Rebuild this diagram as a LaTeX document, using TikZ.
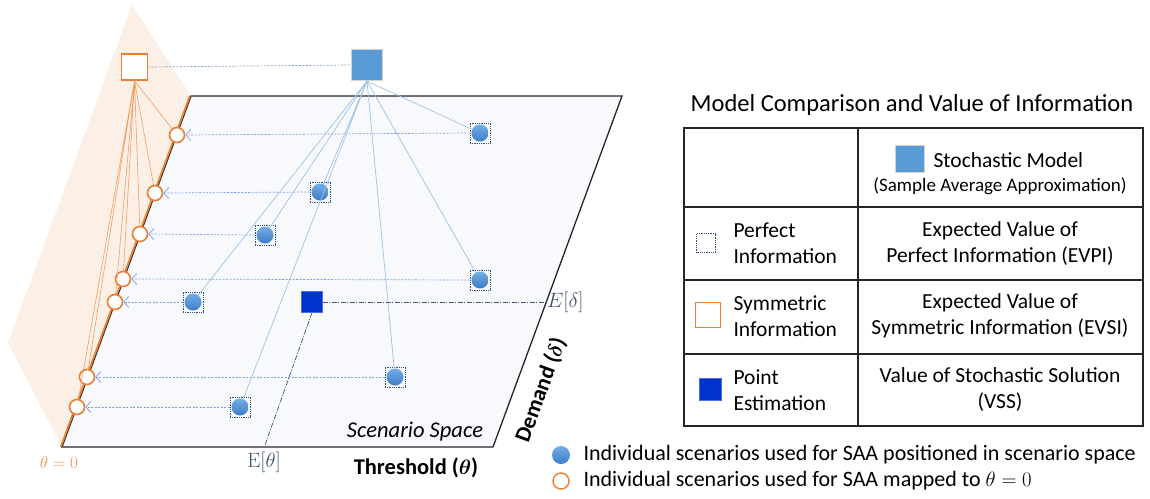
\documentclass[tikz,border=0pt]{standalone}
\usepackage{bm}
\usepackage[no-math]{fontspec}
\setmainfont{Carlito}
\usetikzlibrary{arrows.meta,positioning,calc}
\definecolor{saablue}{HTML}{5B9BD5}
\definecolor{dottop}{HTML}{74AEE6}
\definecolor{dotbottom}{HTML}{3D7CC9}
\definecolor{linkblue}{HTML}{9DC3E6}
\definecolor{symorange}{HTML}{ED7D31}
\definecolor{pointblue}{HTML}{0033CC}
\definecolor{shadeorange}{HTML}{FBEFE6}
\definecolor{planefill}{HTML}{F7F9FC}
\definecolor{dotframe}{HTML}{2F4F7F}
\definecolor{expgray}{HTML}{44546A}

\begin{document}
\begin{tikzpicture}[x=1pt, y=-1pt,
    scenbox/.style={draw=dotframe, densely dotted, line width=0.8pt, minimum size=20pt, inner sep=0pt},
    scendot/.style={circle, inner sep=0pt, minimum size=17pt, top color=dottop, bottom color=dotbottom},
    mapcirc/.style={circle, draw=symorange, line width=1.6pt, fill=white, minimum size=15pt, inner sep=0pt},
    mapline/.style={symorange!75, line width=0.6pt},
    saaline/.style={linkblue, line width=0.7pt},
    mapto/.style={linkblue!80!blue, dash pattern=on 2pt off 1.5pt, line width=0.7pt, -{Straight Barb[length=5pt, width=11pt]}},
    estline/.style={expgray, dash pattern=on 5pt off 1.5pt on 1pt off 1.5pt, line width=0.7pt},
    cell/.style={align=center, font=\fontsize{21.5}{26}\selectfont},
    rowlabel/.style={align=left, anchor=west, font=\fontsize{21.5}{26}\selectfont},
    legend/.style={anchor=west, font=\fontsize{22}{26}\selectfont}
    ]
    \useasboundingbox (0,0) rectangle (1150,498);

    % scenario space
    \fill[shadeorange] (132,5) -- (191,96) -- (62,447) -- (8,343) -- cycle;
    \coordinate (tl) at (191,96);
    \coordinate (tr) at (622,96);
    \coordinate (br) at (493,447);
    \coordinate (bl) at (62,447);
    \filldraw[fill=planefill, draw=black!85, line width=1.3pt] (bl) -- (tl) -- (tr) -- (br) -- cycle;
    \draw[symorange, line width=1.8pt] ($(bl)+(-1.2,0)$) -- ($(tl)+(-1.2,0)$);

    \node[draw=gray!35, line width=1.2pt, fill=saablue, minimum size=31pt, inner sep=0pt] (sm) at (367,65) {};
    \node[draw=symorange, line width=1.6pt, fill=white, minimum size=26pt, inner sep=0pt] (os) at (134.5,67) {};
    \draw[linkblue!70!expgray, dash pattern=on 2pt off 1.5pt, line width=0.7pt] (os.east) -- (sm.west);

    \node[scenbox] (s1) at (480,133) {};
    \node[scenbox] (s2) at (320,192) {};
    \node[scenbox] (s3) at (265,235) {};
    \node[scenbox] (s4) at (480,280) {};
    \node[scenbox] (s5) at (193,302) {};
    \node[scenbox] (s6) at (395,377) {};
    \node[scenbox] (s7) at (240,407) {};
    \node[scendot] (d1) at (s1) {};
    \node[scendot] (d2) at (s2) {};
    \node[scendot] (d3) at (s3) {};
    \node[scendot] (d4) at (s4) {};
    \node[scendot] (d5) at (s5) {};
    \node[scendot] (d6) at (s6) {};
    \node[scendot] (d7) at (s7) {};

    \node[mapcirc] (o1) at (177,135) {};
    \node[mapcirc] (o2) at (155,193) {};
    \node[mapcirc] (o3) at (140,234) {};
    \node[mapcirc] (o4) at (123,279) {};
    \node[mapcirc] (o5) at (115,302) {};
    \node[mapcirc] (o6) at (87,377) {};
    \node[mapcirc] (o7) at (77,407) {};

    \draw[saaline] (sm.south) -- (d1) (sm.south) -- (d2) (sm.south) -- (d3) (sm.south) -- (d4)
        (sm.south) -- (d5) (sm.south) -- (d6) (sm.south) -- (d7);
    \draw[mapline] (os.south) -- (o1) (os.south) -- (o2) (os.south) -- (o3) (os.south) -- (o4)
        (os.south) -- (o5) (os.south) -- (o6) (os.south) -- (o7);
    \draw[mapto] (s1.west) -- (o1.east);
    \draw[mapto] (s2.west) -- (o2.east);
    \draw[mapto] (s3.west) -- (o3.east);
    \draw[mapto] (s4.west) -- (o4.east);
    \draw[mapto] (s5.west) -- (o5.east);
    \draw[mapto] (s6.west) -- (o6.east);
    \draw[mapto] (s7.west) -- (o7.east);

    % point estimation
    \node[fill=pointblue, draw=pointblue!70!white, minimum size=21pt, inner sep=0pt] (pe) at (312,302) {};
    \coordinate (ed) at (546,302);
    \coordinate (et) at (265,445);
    \draw[estline] (pe.east) -- (ed);
    \draw[estline] (pe.south) -- (et);
    \node[anchor=west, inner sep=1pt, text=expgray, font=\fontsize{22}{26}\selectfont] (edlab) at (ed) {$E[\delta]$};
    \node[text=expgray, font=\fontsize{20}{24}\selectfont] (etlab) at (264,462) {$\mathrm{E}[\theta]$};
    \node[text=symorange!85, font=\fontsize{19}{23}\selectfont] (zerolab) at (59,462) {$\theta = 0$};

    \node[font=\itshape\fontsize{22.5}{26}\selectfont] (space) at (415,432) {Scenario Space};
    \node[font=\bfseries\fontsize{22.5}{26}\selectfont] (thr) at (416,468) {Threshold ($\bm{\theta}$)};
    \node[font=\bfseries\fontsize{22.5}{26}\selectfont, rotate=70] (dem) at (541,390) {Demand ($\bm{\delta}$)};

    % comparison table
    \node[font=\fontsize{24.5}{29}\selectfont] (title) at (912,105) {Model Comparison and Value of Information};
    \draw[black!85, line width=1.2pt] (684,128) rectangle (1143,426);
    \draw[black!85, line width=1.2pt] (858,128) -- (858,426)
        (684,207) -- (1143,207) (684,280) -- (1143,280) (684,354) -- (1143,354);

    \node[draw=gray!35, line width=0.8pt, fill=saablue, minimum width=29pt, minimum height=27pt, inner sep=0pt] (smicon) at (910,159) {};
    \node[rowlabel] (smtext) at (930,160) {Stochastic Model};
    \node[cell, font=\fontsize{19}{22}\selectfont] (saa) at (1000,186) {(Sample Average Approximation)};

    \node[draw=dotframe, densely dotted, line width=0.8pt, minimum size=19pt, inner sep=0pt] (piicon) at (706,243) {};
    \node[rowlabel] (pitext) at (730,243) {Perfect\\Information};
    \node[cell] (evpi) at (1000,244) {Expected Value of\\Perfect Information (EVPI)};

    \node[draw=symorange, line width=1.5pt, fill=white, minimum size=25pt, inner sep=0pt] (siicon) at (708,315) {};
    \node[rowlabel] (sitext) at (730,316) {Symmetric\\Information};
    \node[cell] (evsi) at (1000,316) {Expected Value of\\Symmetric Information (EVSI)};

    \node[fill=pointblue, draw=pointblue!70!white, minimum size=22pt, inner sep=0pt] (peicon) at (710,389) {};
    \node[rowlabel] (petext) at (730,390) {Point\\Estimation};
    \node[cell] (vss) at (1000,390) {Value of Stochastic Solution\\(VSS)};

    % legend
    \node[scendot, minimum size=18pt] (legdot) at (561,455) {};
    \node[legend] (legdottext) at (580,455) {Individual scenarios used for SAA positioned in scenario space};
    \node[mapcirc, line width=1.4pt, minimum size=16pt] (legcirc) at (561,481) {};
    \node[legend] (legcirctext) at (580,481) {Individual scenarios used for SAA mapped to $\theta = 0$};
\end{tikzpicture}
\end{document}
